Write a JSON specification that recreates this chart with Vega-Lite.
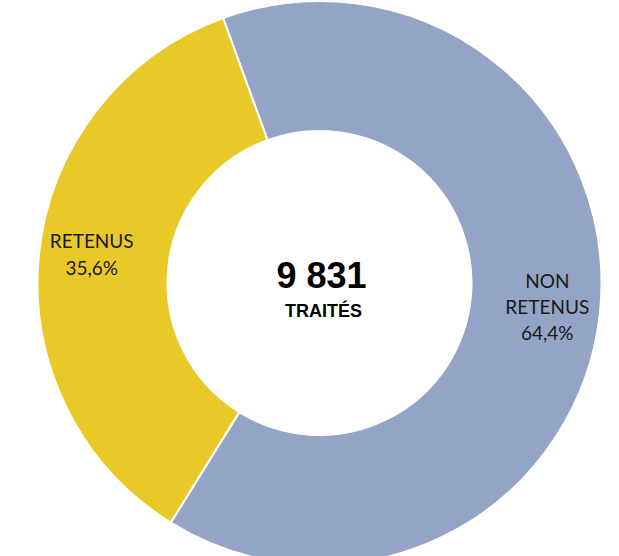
{
  "$schema": "https://vega.github.io/schema/vega-lite/v6.json",
  "width": 619,
  "height": 556,
  "autosize": {"type": "fit", "contains": "padding"},
  "padding": {"left": 20, "top": 10, "right": 0, "bottom": 0},
  "background": "white",
  "view": {"stroke": null},
  "layer": [
    {
      "data": {"values": [
        {"statut": "NON RETENUS", "pct": 64.4, "ord": 1, "label": "NON\nRETENUS\n64,4%"},
        {"statut": "RETENUS", "pct": 35.6, "ord": 2, "label": "RETENUS\n35,6%"}
      ]},
      "transform": [
        {"stack": "pct", "groupby": [], "sort": [{"field": "ord"}], "as": ["p0", "p1"]},
        {"calculate": "(datum.p0 + datum.p1) / 2", "as": "pmid"}
      ],
      "layer": [
        {
          "mark": {"type": "arc", "outerRadius": 282, "innerRadius": 152, "stroke": "white", "strokeWidth": 2},
          "encoding": {
            "theta": {"field": "p0", "type": "quantitative", "scale": {"domain": [0, 100], "range": [-0.349, 5.934]}},
            "theta2": {"field": "p1"},
            "color": {"field": "statut", "type": "nominal", "legend": null,
              "scale": {"domain": ["NON RETENUS", "RETENUS"], "range": ["#93A4C7", "#E9C928"]}}
          }
        },
        {
          "transform": [{"filter": "datum.statut === 'RETENUS'"}],
          "mark": {"type": "text", "radius": 229, "font": "Lato", "fontSize": 19, "lineBreak": "\n", "lineHeight": 27, "color": "#1a1a1a", "baseline": "middle", "align": "center", "dy": -17},
          "encoding": {
            "theta": {"field": "pmid", "type": "quantitative", "scale": {"domain": [0, 100], "range": [-0.349, 5.934]}},
            "text": {"field": "label", "type": "nominal"}
          }
        },
        {
          "transform": [{"filter": "datum.statut === 'NON RETENUS'"}],
          "mark": {"type": "text", "radius": 229, "font": "Lato", "fontSize": 19, "lineBreak": "\n", "lineHeight": 26, "color": "#1a1a1a", "baseline": "middle", "align": "center", "dy": -25},
          "encoding": {
            "theta": {"field": "pmid", "type": "quantitative", "scale": {"domain": [0, 100], "range": [-0.349, 5.934]}},
            "text": {"field": "label", "type": "nominal"}
          }
        }
      ]
    },
    {
      "data": {"values": [{"total": "9 831", "sub": "TRAITÉS"}]},
      "layer": [
        {
          "mark": {"type": "text", "font": "Liberation Sans", "fontWeight": "bold", "fontSize": 36, "baseline": "alphabetic", "dy": 5, "dx": 2, "color": "#000000"},
          "encoding": {"text": {"field": "total", "type": "nominal"}}
        },
        {
          "mark": {"type": "text", "font": "Liberation Sans", "fontWeight": "bold", "fontSize": 18, "baseline": "alphabetic", "dy": 34, "dx": 4, "color": "#000000"},
          "encoding": {"text": {"field": "sub", "type": "nominal"}}
        }
      ]
    }
  ]
}
